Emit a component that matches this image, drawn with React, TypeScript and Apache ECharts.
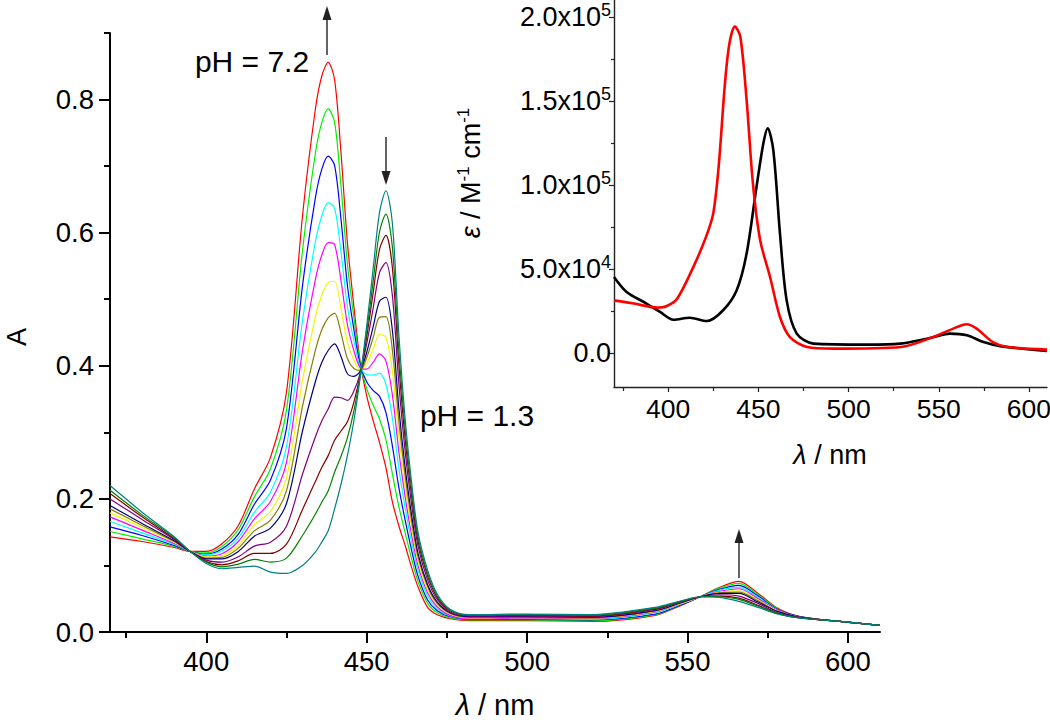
import React, { useEffect, useRef } from 'react';
import * as echarts from 'echarts';

const FONT = '"Liberation Sans", Arial, Helvetica, sans-serif';

// ---- main plot: absorbance vs wavelength at 12 pH values ----
const wavelengths = [370, 380, 390, 395, 400, 405, 410, 415, 420, 425, 430, 434, 436, 438, 440, 442, 444, 446, 448, 450, 452, 454, 456, 458, 460, 462, 464, 466, 469, 472, 476, 482, 500, 520, 540, 548, 554, 560, 566, 572, 578, 585, 595, 610];

const absRed = [0.143, 0.136, 0.127, 0.121, 0.121, 0.133, 0.160, 0.215, 0.262, 0.360, 0.625, 0.785, 0.835, 0.856, 0.830, 0.720, 0.585, 0.490, 0.405, 0.355, 0.318, 0.285, 0.247, 0.196, 0.160, 0.130, 0.097, 0.068, 0.037, 0.026, 0.020, 0.017, 0.017, 0.016, 0.025, 0.040, 0.053, 0.067, 0.076, 0.058, 0.036, 0.023, 0.017, 0.010];
const absGreen = [0.151, 0.140, 0.129, 0.121, 0.119, 0.129, 0.154, 0.203, 0.245, 0.333, 0.573, 0.719, 0.765, 0.786, 0.766, 0.670, 0.553, 0.473, 0.403, 0.366, 0.341, 0.320, 0.289, 0.238, 0.189, 0.149, 0.110, 0.076, 0.043, 0.029, 0.021, 0.018, 0.018, 0.017, 0.026, 0.041, 0.053, 0.066, 0.073, 0.056, 0.035, 0.023, 0.017, 0.010];
const absBlue = [0.158, 0.145, 0.130, 0.121, 0.117, 0.125, 0.147, 0.192, 0.228, 0.306, 0.520, 0.652, 0.695, 0.715, 0.701, 0.620, 0.521, 0.455, 0.401, 0.376, 0.363, 0.354, 0.330, 0.280, 0.218, 0.168, 0.123, 0.084, 0.048, 0.032, 0.023, 0.019, 0.019, 0.018, 0.027, 0.041, 0.053, 0.064, 0.070, 0.054, 0.034, 0.023, 0.017, 0.010];
const absCyan = [0.166, 0.149, 0.132, 0.121, 0.116, 0.122, 0.141, 0.180, 0.210, 0.278, 0.468, 0.586, 0.625, 0.645, 0.637, 0.571, 0.489, 0.438, 0.398, 0.387, 0.386, 0.389, 0.372, 0.322, 0.247, 0.187, 0.135, 0.093, 0.054, 0.035, 0.024, 0.020, 0.020, 0.019, 0.029, 0.042, 0.053, 0.063, 0.067, 0.052, 0.033, 0.022, 0.017, 0.010];
const absMagenta = [0.173, 0.153, 0.133, 0.121, 0.114, 0.118, 0.136, 0.170, 0.196, 0.255, 0.423, 0.529, 0.566, 0.585, 0.582, 0.528, 0.462, 0.423, 0.397, 0.395, 0.405, 0.418, 0.407, 0.357, 0.272, 0.203, 0.146, 0.100, 0.059, 0.038, 0.025, 0.020, 0.021, 0.020, 0.030, 0.043, 0.053, 0.061, 0.065, 0.050, 0.033, 0.022, 0.017, 0.010];
const absYellow = [0.179, 0.157, 0.135, 0.121, 0.113, 0.115, 0.130, 0.161, 0.181, 0.232, 0.378, 0.473, 0.506, 0.525, 0.527, 0.486, 0.435, 0.409, 0.395, 0.404, 0.425, 0.447, 0.443, 0.393, 0.296, 0.219, 0.157, 0.107, 0.063, 0.041, 0.027, 0.021, 0.022, 0.021, 0.031, 0.043, 0.053, 0.060, 0.062, 0.048, 0.032, 0.022, 0.017, 0.010];
const absOlive = [0.185, 0.160, 0.136, 0.121, 0.111, 0.112, 0.126, 0.152, 0.168, 0.212, 0.339, 0.423, 0.454, 0.472, 0.479, 0.449, 0.411, 0.396, 0.393, 0.412, 0.442, 0.473, 0.474, 0.424, 0.318, 0.234, 0.167, 0.113, 0.068, 0.043, 0.028, 0.022, 0.022, 0.021, 0.032, 0.044, 0.053, 0.059, 0.060, 0.047, 0.031, 0.022, 0.017, 0.010];
const absNavy = [0.190, 0.163, 0.137, 0.121, 0.110, 0.110, 0.121, 0.144, 0.156, 0.193, 0.302, 0.376, 0.405, 0.423, 0.433, 0.414, 0.388, 0.384, 0.392, 0.420, 0.458, 0.497, 0.503, 0.454, 0.338, 0.247, 0.176, 0.118, 0.071, 0.045, 0.029, 0.023, 0.023, 0.022, 0.032, 0.044, 0.053, 0.058, 0.058, 0.045, 0.031, 0.022, 0.017, 0.010];
const absPurple = [0.200, 0.169, 0.139, 0.121, 0.108, 0.105, 0.113, 0.129, 0.135, 0.159, 0.237, 0.293, 0.317, 0.335, 0.353, 0.352, 0.348, 0.362, 0.389, 0.433, 0.486, 0.540, 0.555, 0.506, 0.375, 0.271, 0.192, 0.129, 0.078, 0.049, 0.030, 0.024, 0.024, 0.023, 0.034, 0.045, 0.053, 0.056, 0.054, 0.043, 0.029, 0.022, 0.017, 0.010];
const absMaroon = [0.208, 0.173, 0.140, 0.121, 0.106, 0.101, 0.107, 0.118, 0.118, 0.132, 0.184, 0.226, 0.247, 0.265, 0.288, 0.302, 0.316, 0.345, 0.387, 0.443, 0.509, 0.575, 0.596, 0.548, 0.404, 0.290, 0.205, 0.137, 0.084, 0.052, 0.032, 0.025, 0.025, 0.024, 0.035, 0.046, 0.053, 0.054, 0.051, 0.040, 0.028, 0.021, 0.017, 0.010];
const absDarkGreen = [0.213, 0.176, 0.142, 0.121, 0.105, 0.098, 0.102, 0.109, 0.105, 0.111, 0.145, 0.177, 0.195, 0.212, 0.240, 0.264, 0.292, 0.332, 0.385, 0.451, 0.526, 0.601, 0.628, 0.579, 0.425, 0.304, 0.214, 0.143, 0.088, 0.054, 0.033, 0.025, 0.026, 0.025, 0.036, 0.046, 0.053, 0.053, 0.049, 0.039, 0.028, 0.021, 0.017, 0.010];
const absTeal = [0.220, 0.180, 0.143, 0.121, 0.103, 0.095, 0.097, 0.099, 0.090, 0.088, 0.100, 0.120, 0.135, 0.152, 0.185, 0.222, 0.265, 0.317, 0.383, 0.460, 0.545, 0.630, 0.663, 0.615, 0.450, 0.320, 0.225, 0.150, 0.093, 0.057, 0.034, 0.026, 0.027, 0.026, 0.037, 0.047, 0.053, 0.052, 0.046, 0.037, 0.027, 0.021, 0.017, 0.010];

const curves = [absRed, absGreen, absBlue, absCyan, absMagenta, absYellow, absOlive, absNavy, absPurple, absMaroon, absDarkGreen, absTeal];
const curveColors = ['#ff0000', '#00f000', '#0000ff', '#00ffff', '#ff00ff', '#f5f500', '#808000', '#000080', '#800080', '#800000', '#008000', '#008080'];

const mainXTicks = [400, 450, 500, 550, 600];
const mainXMinor = [375, 425, 475, 525, 575];
const mainYTicks = [0, 0.2, 0.4, 0.6, 0.8];
const mainYMinor = [0.1, 0.3, 0.5, 0.7, 0.9];

// ---- inset: molar absorptivity ----
const insetRedWl = [370, 381, 394, 399, 405, 414, 421, 425, 428, 431.5, 434, 437, 440, 443.5, 447, 451, 456.5, 462, 467.5, 477, 492, 529, 547, 558, 565.5, 571, 580, 588, 610];
const insetRedEps = [31500, 29600, 27200, 28000, 32500, 51400, 69200, 83100, 110900, 160500, 184300, 194200, 188300, 150600, 101000, 67300, 45400, 21600, 9700, 3800, 2800, 3800, 9700, 14700, 17300, 14700, 6700, 3800, 2200];
const insetBlackWl = [370, 377, 388, 395.5, 403, 412, 421.5, 430.5, 438, 443.5, 449, 452.8, 455.2, 458.3, 462, 465.7, 471.3, 480.5, 510, 528.6, 543.4, 556.3, 565.6, 574.8, 584, 610];
const insetBlackEps = [45400, 36500, 29600, 24600, 20000, 21200, 19200, 25600, 37500, 59300, 99000, 124800, 133700, 120800, 71200, 31500, 11700, 5800, 5200, 5800, 8700, 11700, 10700, 6700, 4300, 1400];

const insetXTicks = [400, 450, 500, 550, 600];
const insetXMinor = [375, 425, 475, 525, 575];
const insetYTicks = [0, 50000, 100000, 150000, 200000];
const insetYMinor = [25000, 75000, 125000, 175000];

function sciLabel(v: number): string {
  if (v === 0) return '{n|0.0}';
  const e = Math.floor(Math.log10(v) + 1e-9);
  const m = v / Math.pow(10, e);
  return `{n|${m.toFixed(1)}x10}{s|${e}}`;
}

export default function App() {
  const ref = useRef<HTMLDivElement>(null);

  useEffect(() => {
    document.body.style.margin = '0';
    if (!ref.current) return;
    const chart = echarts.init(ref.current, null, { renderer: 'svg' });

    const black = '#000';
    const mainSeries = curves.map((vals, i) => ({
      type: 'line',
      xAxisIndex: 0,
      yAxisIndex: 0,
      data: wavelengths.map((w, j) => [w, vals[j]]),
      showSymbol: false,
      smooth: 0.3,
      silent: true,
      lineStyle: { width: 1.2, color: curveColors[i] },
      itemStyle: { color: curveColors[i] },
      z: 2 + i,
    }));

    const insetSeries = [
      {
        type: 'line',
        xAxisIndex: 2,
        yAxisIndex: 2,
        data: insetBlackWl.map((w, j) => [w, insetBlackEps[j]]),
        showSymbol: false,
        smooth: 0.3,
        silent: true,
        lineStyle: { width: 2.6, color: '#000' },
        itemStyle: { color: '#000' },
      },
      {
        type: 'line',
        xAxisIndex: 2,
        yAxisIndex: 2,
        data: insetRedWl.map((w, j) => [w, insetRedEps[j]]),
        showSymbol: false,
        smooth: 0.3,
        silent: true,
        lineStyle: { width: 2.6, color: '#ff0000' },
        itemStyle: { color: '#ff0000' },
      },
    ];

    const labelStyle = { color: black, fontFamily: FONT };

    const option: any = {
      animation: false,
      backgroundColor: '#fff',
      grid: [
        { left: 110, top: 33, right: 170, bottom: 91, outerBoundsMode: 'none', containLabel: false },
        { left: 614, top: 0, right: 3, bottom: 336, outerBoundsMode: 'none', containLabel: false },
      ],
      xAxis: [
        {
          gridIndex: 0, type: 'value', min: 370, max: 610, position: 'bottom',
          axisLine: { show: true, onZero: false, lineStyle: { color: black, width: 2 } },
          axisTick: { show: true, inside: false, length: 11, customValues: mainXTicks, lineStyle: { color: black, width: 2 } },
          axisLabel: { show: true, customValues: mainXTicks, fontSize: 27.5, margin: 15, ...labelStyle },
          splitLine: { show: false },
        },
        {
          gridIndex: 0, type: 'value', min: 370, max: 610, position: 'bottom',
          axisLine: { show: false, onZero: false },
          axisTick: { show: true, inside: false, length: 6, customValues: mainXMinor, lineStyle: { color: black, width: 2 } },
          axisLabel: { show: false },
          splitLine: { show: false },
        },
        {
          gridIndex: 1, type: 'value', min: 370, max: 610, position: 'bottom',
          axisLine: { show: true, onZero: false, lineStyle: { color: '#222', width: 1.4 } },
          axisTick: { show: true, inside: false, length: 5, customValues: insetXTicks, lineStyle: { color: '#222', width: 1.2 } },
          axisLabel: { show: true, customValues: insetXTicks, fontSize: 26.5, margin: 8, ...labelStyle },
          splitLine: { show: false },
        },
        {
          gridIndex: 1, type: 'value', min: 370, max: 610, position: 'bottom',
          axisLine: { show: false, onZero: false },
          axisTick: { show: true, inside: false, length: 4, customValues: insetXMinor, lineStyle: { color: '#222', width: 1.2 } },
          axisLabel: { show: false },
          splitLine: { show: false },
        },
      ],
      yAxis: [
        {
          gridIndex: 0, type: 'value', min: 0, max: 0.9, position: 'left',
          axisLine: { show: true, onZero: false, lineStyle: { color: black, width: 2 } },
          axisTick: { show: true, inside: false, length: 11, customValues: mainYTicks, lineStyle: { color: black, width: 2 } },
          axisLabel: { show: true, customValues: mainYTicks, fontSize: 27.5, margin: 16, formatter: (v: number) => v.toFixed(1), ...labelStyle },
          splitLine: { show: false },
        },
        {
          gridIndex: 0, type: 'value', min: 0, max: 0.9, position: 'left', offset: 0,
          axisLine: { show: false, onZero: false },
          axisTick: { show: true, inside: false, length: 6, customValues: mainYMinor, lineStyle: { color: black, width: 2 } },
          axisLabel: { show: false },
          splitLine: { show: false },
        },
        {
          gridIndex: 1, type: 'value', min: -20000, max: 210000, position: 'left',
          axisLine: { show: true, onZero: false, lineStyle: { color: '#222', width: 1.4 } },
          axisTick: { show: true, inside: false, length: 5, customValues: insetYTicks, lineStyle: { color: '#222', width: 1.2 } },
          axisLabel: {
            show: true, customValues: insetYTicks, margin: 3, formatter: sciLabel,
            rich: {
              n: { fontSize: 27, lineHeight: 32, color: black, fontFamily: FONT, verticalAlign: 'middle' },
              s: { fontSize: 18, lineHeight: 18, color: black, fontFamily: FONT, verticalAlign: 'top' },
            },
          },
          splitLine: { show: false },
        },
        {
          gridIndex: 1, type: 'value', min: -20000, max: 210000, position: 'left', offset: 0,
          axisLine: { show: false, onZero: false },
          axisTick: { show: true, inside: false, length: 3, customValues: insetYMinor, lineStyle: { color: '#222', width: 1.2 } },
          axisLabel: { show: false },
          splitLine: { show: false },
        },
      ],
      series: [...mainSeries, ...insetSeries],
      graphic: [
        // arrows
        { type: 'line', shape: { x1: 327, y1: 55, x2: 327, y2: 18 }, style: { stroke: '#222', lineWidth: 1.4 } },
        { type: 'polygon', shape: { points: [[322.5, 20], [331.5, 20], [327, 6]] }, style: { fill: '#222' } },
        { type: 'line', shape: { x1: 386, y1: 137, x2: 386, y2: 173 }, style: { stroke: '#222', lineWidth: 1.4 } },
        { type: 'polygon', shape: { points: [[381.5, 171], [390.5, 171], [386, 185]] }, style: { fill: '#222' } },
        { type: 'line', shape: { x1: 739, y1: 578, x2: 739, y2: 541 }, style: { stroke: '#222', lineWidth: 1.4 } },
        { type: 'polygon', shape: { points: [[734.5, 543], [743.5, 543], [739, 529]] }, style: { fill: '#222' } },
        // annotations
        { type: 'text', x: 252, y: 61, style: { text: 'pH = 7.2', fontSize: 30, fontFamily: FONT, fill: black, align: 'center', verticalAlign: 'middle' } },
        { type: 'text', x: 477, y: 415, style: { text: 'pH = 1.3', fontSize: 30, fontFamily: FONT, fill: black, align: 'center', verticalAlign: 'middle' } },
        // axis titles
        { type: 'text', x: 17, y: 337, rotation: Math.PI / 2, style: { text: 'A', fontSize: 27, fontFamily: FONT, fill: black, align: 'center', verticalAlign: 'middle' } },
        {
          type: 'text', x: 495, y: 705,
          style: {
            text: '{i|λ}{b| / nm}', align: 'center', verticalAlign: 'middle', fill: black,
            rich: {
              i: { fontSize: 29, fontStyle: 'italic', fontFamily: FONT, fill: black },
              b: { fontSize: 29, fontFamily: FONT, fill: black },
            },
          },
        },
        {
          type: 'text', x: 830, y: 455,
          style: {
            text: '{i|λ}{b| / nm}', align: 'center', verticalAlign: 'middle', fill: black,
            rich: {
              i: { fontSize: 27, fontStyle: 'italic', fontFamily: FONT, fill: black },
              b: { fontSize: 27, fontFamily: FONT, fill: black },
            },
          },
        },
        {
          type: 'text', x: 471, y: 173, rotation: Math.PI / 2,
          style: {
            text: '{i|ε}{b| / M}{s|-1}{b| cm}{s|-1}', align: 'center', verticalAlign: 'middle', fill: black,
            rich: {
              i: { fontSize: 27, lineHeight: 32, fontStyle: 'italic', fontFamily: FONT, fill: black },
              b: { fontSize: 27, lineHeight: 32, fontFamily: FONT, fill: black },
              s: { fontSize: 17, lineHeight: 17, fontFamily: FONT, fill: black, verticalAlign: 'top' },
            },
          },
        },
      ],
    };

    chart.setOption(option);
    return () => chart.dispose();
  }, []);

  return <div ref={ref} style={{ width: 1050, height: 723 }} />;
}
